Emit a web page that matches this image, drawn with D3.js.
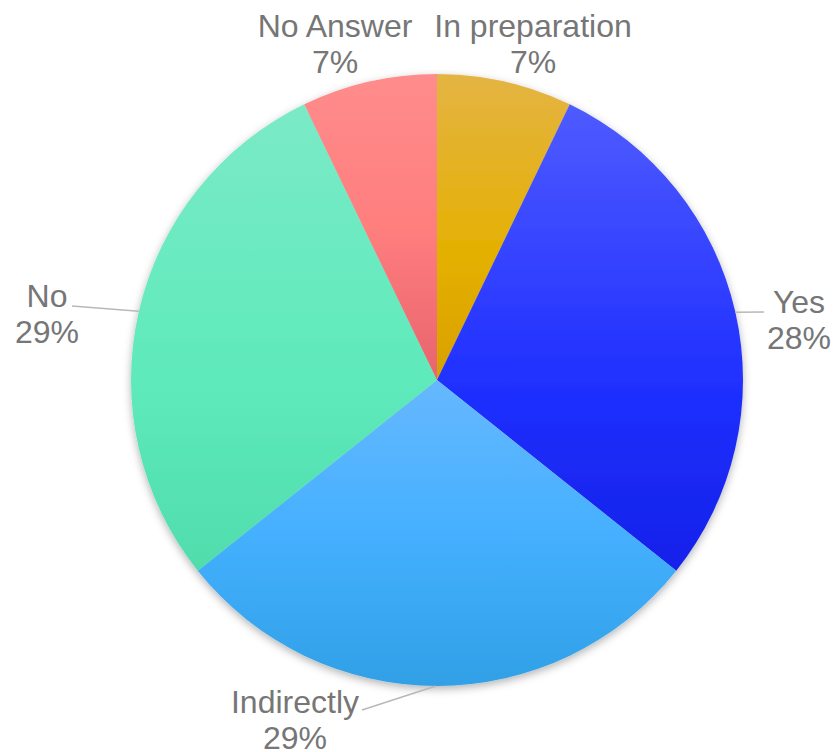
<!DOCTYPE html>
<html><head><meta charset="utf-8">
<script src="https://cdn.jsdelivr.net/npm/d3@7"></script>
<style>body{margin:0;background:#fff}</style>
</head><body>
<svg id="c" width="835" height="752"></svg>
<script>
const categories = ["In preparation","Yes","Indirectly","No","No Answer"];
const values = [1,4,4,4,1];
const percentLabels = ["7%","28%","29%","29%","7%"];
const gradientStops = [
  [[0,"#e4b444"],[0.3,"#e4b000"],[0.5,"#d8a000"],[1,"#c89000"]],
  [[0,"#5460ff"],[0.5,"#2030ff"],[1,"#0e18dc"]],
  [[0,"#84caff"],[0.5,"#66b8ff"],[0.75,"#45b0ff"],[1,"#30a0e6"]],
  [[0,"#7eeac8"],[0.5,"#5eeabb"],[1,"#48d4a4"]],
  [[0,"#ff8c8c"],[0.25,"#ff7e7e"],[0.5,"#e8646e"],[1,"#d04860"]]
];

const W=835,H=752,cx=437,cy=380,R=306;
const svg=d3.select("#c");
const defs=svg.append("defs");
const f=defs.append("filter").attr("id","sh").attr("x","-10%").attr("y","-10%").attr("width","120%").attr("height","125%");
f.append("feDropShadow").attr("dx",0).attr("dy",3).attr("stdDeviation",4).attr("flood-color","#000").attr("flood-opacity",0.3);
categories.forEach((c,i)=>{
  const g=defs.append("linearGradient").attr("id","g"+i).attr("gradientUnits","userSpaceOnUse")
    .attr("x1",0).attr("x2",0).attr("y1",-R).attr("y2",R);
  gradientStops[i].forEach(s=>g.append("stop").attr("offset",s[0]).attr("stop-color",s[1]));
});
const pie=d3.pie().sort(null).value(d=>d);
const arcs=pie(values);
const arc=d3.arc().innerRadius(0).outerRadius(R);
const gp=svg.append("g").attr("filter","url(#sh)").attr("transform",`translate(${cx},${cy})`);
gp.selectAll("path").data(arcs).enter().append("path")
  .attr("d",arc).attr("fill",(d,i)=>`url(#g${i})`);

const labelPos=[
  {x:533,y:37},
  {x:799,y:313},
  {x:295,y:713},
  {x:47,y:307},
  {x:335,y:37}
];
// leader lines: label end -> point on the pie edge
const leaderAngles=[null,77.2,180.2,283,null]; // degrees clockwise from top
const leaderStart=[null,{x:764,y:312},{x:362,y:710},{x:72,y:306},null];
leaderAngles.forEach((a,i)=>{
  if(a===null) return;
  const rad=a*Math.PI/180;
  const px=cx+R*Math.sin(rad), py=cy-R*Math.cos(rad);
  svg.append("line").attr("x1",leaderStart[i].x).attr("y1",leaderStart[i].y).attr("x2",px).attr("y2",py)
    .attr("stroke","#b8b8b8").attr("stroke-width",1.5);
});
const tg=svg.append("g").attr("font-family","Liberation Sans, Arial, sans-serif").attr("font-size",32).attr("fill","#767676").attr("text-anchor","middle");
categories.forEach((c,i)=>{
  tg.append("text").attr("x",labelPos[i].x).attr("y",labelPos[i].y).text(c);
  tg.append("text").attr("x",labelPos[i].x).attr("y",labelPos[i].y+36).text(percentLabels[i]);
});
</script>
</body></html>
